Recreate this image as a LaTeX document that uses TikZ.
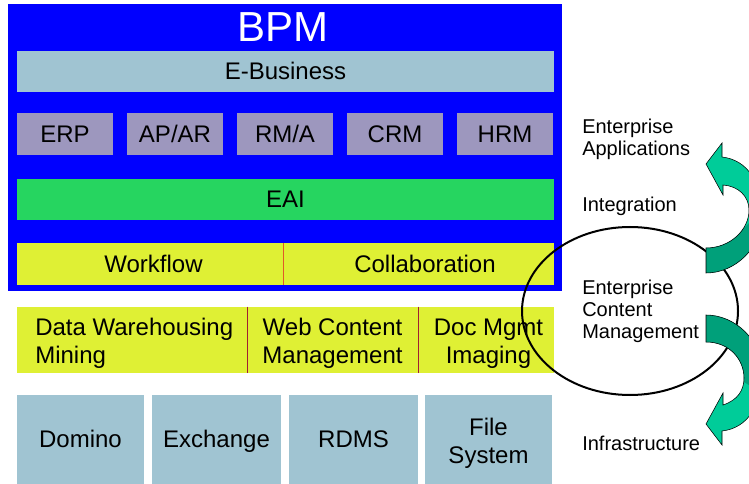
\documentclass[tikz,border=0pt]{standalone}
\usepackage{fontspec}
\setmainfont{Liberation Sans}
\usepackage{xcolor}
\definecolor{bpmblue}{RGB}{0,0,255}
\definecolor{paleblue}{RGB}{160,196,210}
\definecolor{appgray}{RGB}{157,151,190}
\definecolor{eaigreen}{RGB}{38,213,96}
\definecolor{layeryellow}{RGB}{223,240,52}
\definecolor{seporange}{RGB}{225,90,40}
\definecolor{sepred}{RGB}{160,30,50}
\definecolor{arrowlight}{RGB}{0,204,153}
\definecolor{arrowdark}{RGB}{0,160,122}

\newcommand\upturnpath{(706,273) .. controls (735,273) and (762,248) .. (762,216) .. controls (762,183) and (748,160) .. (722,157) -- (722,143) -- (706,164) -- (723,195) -- (723,185) .. controls (738,186) and (749,196) .. (749,210) .. controls (749,230) and (730,248) .. (706,248) -- cycle}
\newcommand\downturnpath{(706,315) .. controls (735,315) and (762,340) .. (762,372) .. controls (762,405) and (748,428) .. (722,431) -- (722,445) -- (706,424) -- (723,393) -- (723,405) .. controls (738,400) and (744,390) .. (744,378) .. controls (744,360) and (730,342) .. (706,342) -- cycle}

\begin{document}
\begin{tikzpicture}[x=0.75pt,y=-0.75pt,
  layer/.style={inner sep=0pt,align=center,font=\fontsize{18}{21}\selectfont,
    execute at begin node={\rule{0pt}{16.3pt}},execute at end node={\rule[-3.8pt]{0pt}{0pt}}},
  twoline/.style={inner sep=0pt,font=\fontsize{18}{21}\selectfont},
  side/.style={anchor=west,inner sep=0pt,align=left,font=\fontsize{15}{16.5}\selectfont},
  sepline/.style={line width=0.75pt},
  turn/.style={draw=black,line width=0.4pt}]
\path[use as bounding box,fill=white] (0,0) rectangle (749,484);

% BPM frame
\node[fill=bpmblue,inner sep=0pt,minimum width=415.5pt,minimum height=215.25pt] (bpm) at (285,147.5) {};
\node[text=white,inner sep=0pt,font=\fontsize{31.5}{36}\selectfont] (bpmtitle) at (283,27) {BPM};
\node[layer,fill=paleblue,minimum width=402.75pt,minimum height=30.75pt] (ebiz) at (285.5,71.5) {E-Business};

% applications
\node[layer,fill=appgray,minimum width=72pt,minimum height=31.5pt] (erp) at (65,134) {ERP};
\node[layer,fill=appgray,minimum width=72pt,minimum height=31.5pt] (apar) at (175,134) {AP/AR};
\node[layer,fill=appgray,minimum width=72pt,minimum height=31.5pt] (rma) at (285,134) {RM/A};
\node[layer,fill=appgray,minimum width=72pt,minimum height=31.5pt] (crm) at (395,134) {CRM};
\node[layer,fill=appgray,minimum width=72pt,minimum height=31.5pt] (hrm) at (505,134) {HRM};

\node[layer,fill=eaigreen,minimum width=402.75pt,minimum height=30.75pt] (eai) at (285.5,199.5) {EAI};
\node[layer,fill=layeryellow,minimum width=199.5pt,minimum height=31.5pt] (workflow) at (150,264) {};
\node[layer,fill=layeryellow,minimum width=203.25pt,minimum height=31.5pt] (collab) at (418.5,264) {};
\node[layer] (wftext) at (153.5,264) {Workflow};
\node[layer] (collabtext) at (425,264) {Collaboration};
\draw[sepline,seporange] (workflow.north east) -- (workflow.south east);

% content layer
\node[layer,fill=layeryellow,minimum width=172.5pt,minimum height=49.5pt] (dwh) at (132,340) {};
\node[layer,fill=layeryellow,minimum width=128.25pt,minimum height=49.5pt] (wcm) at (332.5,340) {};
\node[layer,fill=layeryellow,minimum width=102pt,minimum height=49.5pt] (docmgmt) at (486,340) {};
\node[twoline,anchor=west,align=left] (dwhtext) at (35,343.5) {Data Warehousing\\Mining};
\node[twoline,align=center] (wcmtext) at (332.5,343.5) {Web Content\\Management};
\node[twoline,align=center] (doctext) at (488.5,343.5) {Doc Mgmt\\Imaging};
\draw[sepline,sepred] (dwh.north east) -- (dwh.south east);
\draw[sepline,sepred] (wcm.north east) -- (wcm.south east);

% infrastructure
\node[layer,fill=paleblue,minimum width=95.25pt,minimum height=66.75pt] (domino) at (80.5,439.5) {Domino};
\node[layer,fill=paleblue,minimum width=96.75pt,minimum height=66.75pt] (exchange) at (216.5,439.5) {Exchange};
\node[layer,fill=paleblue,minimum width=96.75pt,minimum height=66.75pt] (rdms) at (353.5,439.5) {RDMS};
\node[layer,fill=paleblue,minimum width=95.25pt,minimum height=66.75pt] (filesys) at (488.5,439.5) {};
\node[twoline,align=center] (filetext) at (488.5,443.5) {File\\System};

% ECM ring
\draw[line width=1.5pt] (630,311) ellipse [x radius=108,y radius=84];

% side labels
\node[side] (entapps) at (582,139) {Enterprise\\Applications};
\node[side] (integ) at (582,206) {Integration};
\node[side] (ecm) at (582,311) {Enterprise\\Content\\Management};
\node[side] (infra) at (582,443) {Infrastructure};

% turning arrows
\begin{scope}
\clip (0,0) rectangle (749,484);
\fill[arrowlight] \upturnpath;
\begin{scope}
\clip (700,300) -- (700,240) -- (736,236) -- (760,212) -- (760,300) -- cycle;
\fill[arrowdark] \upturnpath;
\end{scope}
\draw[turn] \upturnpath;
\fill[arrowlight] \downturnpath;
\begin{scope}
\clip (700,300) -- (760,300) -- (760,392) -- (744,382) -- (700,352) -- cycle;
\fill[arrowdark] \downturnpath;
\end{scope}
\draw[turn] \downturnpath;
\end{scope}
\end{tikzpicture}
\end{document}
